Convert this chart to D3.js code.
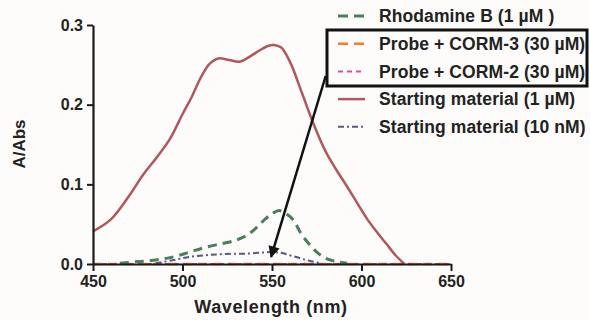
<!DOCTYPE html>
<html>
<head>
<meta charset="utf-8">
<script src="https://cdn.jsdelivr.net/npm/d3@7"></script>
<style>
  body { margin: 0; background: #fdfcfb; }
  svg { display: block; }
  text { font-family: "Liberation Sans", Arial, sans-serif; font-weight: bold; fill: #222; }
</style>
</head>
<body>
<svg id="chart" width="590" height="320"></svg>
<script>
// values
var xTicks = [450, 500, 550, 600, 650];
var yTicks = [0.0, 0.1, 0.2, 0.3];

var rhodWl  = [465,475,485,495,504,513,523,530,536,541,546,550,554,558,562,566,570,575,580,586,592];
var rhodAbs = [0.001,0.003,0.005,0.009,0.015,0.021,0.026,0.030,0.036,0.045,0.056,0.063,0.067,0.063,0.055,0.039,0.027,0.015,0.007,0.003,0.001];

var corm3Wl  = [450, 650];
var corm3Abs = [0, 0];
var corm2Wl  = [450, 650];
var corm2Abs = [0, 0];

var sm1Wl  = [450,460,470,478,486,493,500,505,510,515,520,526,532,538,543,548,551,555,560,567,573,580,586,592,598,603,609,614,619,624];
var sm1Abs = [0.041,0.056,0.085,0.112,0.135,0.157,0.188,0.209,0.233,0.251,0.258,0.256,0.254,0.261,0.268,0.274,0.275,0.272,0.254,0.213,0.177,0.141,0.118,0.097,0.075,0.057,0.039,0.025,0.011,0];

var sm10Wl  = [485,495,504,513,523,535,545,550,555,560,566,571,577];
var sm10Abs = [0.001,0.005,0.009,0.011,0.0125,0.013,0.0145,0.015,0.014,0.011,0.007,0.004,0.001];

var legendLabels = ["Rhodamine B (1 \u00b5M )", "Probe + CORM-3 (30 \u00b5M)", "Probe + CORM-2 (30 \u00b5M)",
                    "Starting material (1 \u00b5M)", "Starting material (10 nM)"];

// arrow annotation, in data units (tail at legend box, head at 10 nM curve)
var arrowFrom = [580, 0.236];
var arrowTo   = [549.5, 0.009];

var series = [
  {wl: rhodWl,  v: rhodAbs,  color: "#4b7f5c", width: 3,   dash: "9,6"},
  {wl: corm3Wl, v: corm3Abs, color: "#f07e2b", width: 2.5, dash: "9,6"},
  {wl: corm2Wl, v: corm2Abs, color: "#d0509c", width: 2,   dash: "5,4"},
  {wl: sm1Wl,   v: sm1Abs,   color: "#b0585c", width: 2.5, dash: null},
  {wl: sm10Wl,  v: sm10Abs,  color: "#5a5688", width: 2,   dash: "6,3,2,3"}
];

var svg = d3.select("#chart");
var x = d3.scaleLinear().domain([450, 650]).range([93, 451]);
var y = d3.scaleLinear().domain([0, 0.3]).range([264, 25]);

var line = d3.line()
    .x(function (d) { return x(d[0]); })
    .y(function (d) { return y(d[1]); })
    .curve(d3.curveCatmullRom.alpha(0.5));

// lines (probe ones sit flat on the baseline, under the axis)
var drawOrder = [1, 2, 0, 4, 3];
drawOrder.forEach(function (i) {
  var s = series[i];
  svg.append("path")
      .datum(d3.zip(s.wl, s.v))
      .attr("fill", "none")
      .attr("stroke", s.color)
      .attr("stroke-width", s.width)
      .attr("stroke-dasharray", s.dash)
      .attr("d", line);
});

// axes
var xAxis = svg.append("g")
    .attr("transform", "translate(0," + y(0) + ")")
    .call(d3.axisBottom(x).tickValues(xTicks).tickSize(7).tickPadding(5).tickSizeOuter(0));
var yAxis = svg.append("g")
    .attr("transform", "translate(" + x(450) + ",0)")
    .call(d3.axisLeft(y).tickValues(yTicks).tickFormat(d3.format(".1f")).tickSize(6).tickPadding(4).tickSizeOuter(0));

[xAxis, yAxis].forEach(function (g) {
  g.select(".domain").attr("stroke", "#1a1a1a").attr("stroke-width", 2.2);
  g.selectAll(".tick line").attr("stroke", "#1a1a1a").attr("stroke-width", 2);
  g.selectAll(".tick text")
      .attr("fill", "#222")
      .style("font-family", "'Liberation Sans', Arial, sans-serif")
      .style("font-weight", "bold")
      .style("font-size", "16px");
});

svg.append("text")
    .attr("x", 271)
    .attr("y", 313)
    .attr("text-anchor", "middle")
    .style("font-size", "18px")
    .style("letter-spacing", "0.6px")
    .text("Wavelength (nm)");

svg.append("text")
    .attr("transform", "translate(25,144) rotate(-90)")
    .attr("text-anchor", "middle")
    .style("font-size", "17px")
    .text("A/Abs");

// legend
var legend = svg.append("g").attr("class", "legend");
legendLabels.forEach(function (lab, i) {
  var ly = 16 + i * 27.7;
  var s = series[i];
  legend.append("line")
      .attr("x1", 338).attr("x2", 365)
      .attr("y1", ly).attr("y2", ly)
      .attr("stroke", s.color)
      .attr("stroke-width", s.width)
      .attr("stroke-dasharray", i == 0 || i == 1 ? "10,6" : s.dash);
  legend.append("text")
      .attr("x", 379)
      .attr("y", ly)
      .attr("dy", "0.36em")
      .style("font-size", "17.5px")
      .style("letter-spacing", "0.1px")
      .text(lab);
});

// box round the two probe entries
legend.append("rect")
    .attr("x", 327).attr("y", 30)
    .attr("width", 260).attr("height", 56)
    .attr("fill", "none")
    .attr("stroke", "#111")
    .attr("stroke-width", 3);

// arrow
svg.append("defs").append("marker")
    .attr("id", "head")
    .attr("viewBox", "0 0 10 10")
    .attr("refX", 9).attr("refY", 5)
    .attr("markerWidth", 5.6).attr("markerHeight", 4.6)
    .attr("markerUnits", "strokeWidth")
    .attr("orient", "auto")
  .append("path")
    .attr("d", "M0,0 L10,5 L0,10 z")
    .attr("fill", "#111");

svg.append("line")
    .attr("x1", x(arrowFrom[0])).attr("y1", y(arrowFrom[1]))
    .attr("x2", x(arrowTo[0])).attr("y2", y(arrowTo[1]))
    .attr("stroke", "#111")
    .attr("stroke-width", 2.5)
    .attr("marker-end", "url(#head)");
</script>
</body>
</html>
